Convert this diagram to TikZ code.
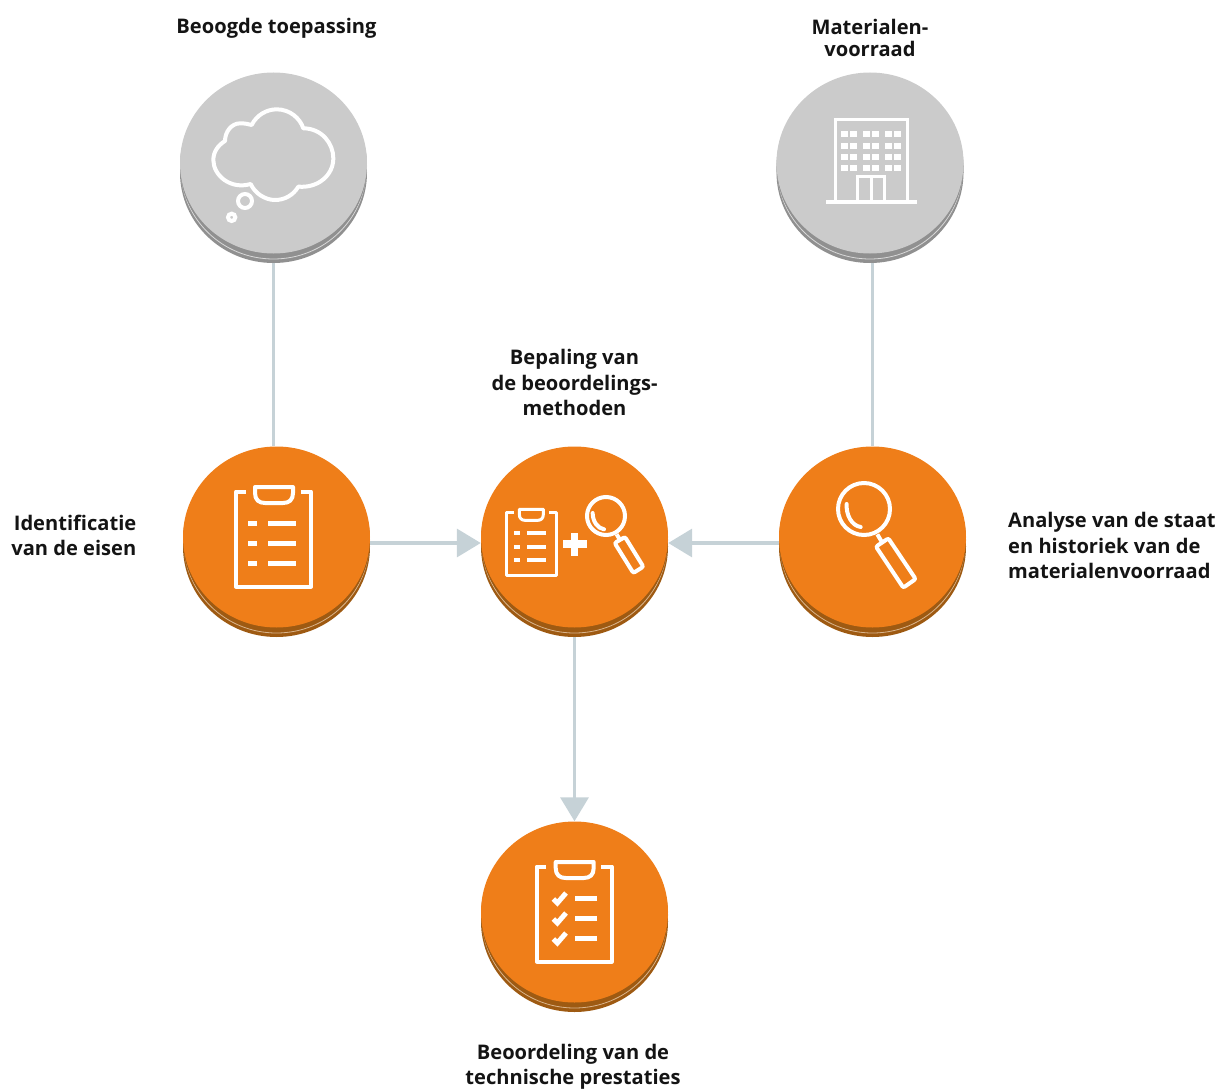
\documentclass[tikz,border=0pt]{standalone}
\usepackage{fontspec}
\setmainfont{Open Sans}
\usetikzlibrary{shapes.geometric,arrows.meta}
\definecolor{orangeface}{HTML}{EF7E19}
\definecolor{orangeside}{HTML}{9E5A12}
\definecolor{orangeline}{HTML}{D9B48C}
\definecolor{grayface}{HTML}{CBCBCB}
\definecolor{grayside}{HTML}{909090}
\definecolor{grayline}{HTML}{D8D8D8}
\definecolor{linkcol}{HTML}{C6D2D7}
\tikzset{
  disc/.style={ellipse,inner sep=0pt,minimum width=187pt,minimum height=181pt},
  link/.style={draw=linkcol,line width=3.5pt},
  arrowlink/.style={link,-{Triangle[length=24pt,width=28pt,fill=linkcol]}},
  icon/.style={draw=white,line width=4pt,fill=none},
  iconthin/.style={draw=white,line width=3pt,fill=none},
  bar/.style={draw=none,fill=white},
  label/.style={inner sep=0pt,font=\fontsize{20.1}{25.3}\selectfont\bfseries,text=black!92}
}
% #1 name, #2 x, #3 y, #4 face, #5 side, #6 light line
\newcommand{\coin}[6]{%
  \node[disc,fill=#5] (#1b) at (#2,#3+9.5) {};
  \draw[#6,line width=0.8pt] (#2,#3+6) ellipse [x radius=92.5,y radius=90];
  \fill[#5] (#2,#3+3) ellipse [x radius=93.5,y radius=90.5];
  \node[disc,fill=#4] (#1) at (#2,#3) {};
}
% large clipboard frame, #1 x, #2 y of outer top left
\newcommand{\boardframe}[2]{%
  \begin{scope}[shift={(#1,#2)}]
    \draw[icon,line join=round] (11.5,1.5) -- (2,1.5) -- (2,96.5) -- (77,96.5) -- (77,1.5) -- (66.5,1.5);
    \draw[icon,line join=round] (21,-3) -- (21,3) .. controls (21,10) and (25,13) .. (31,13) -- (49,13) .. controls (55,13) and (59,10) .. (59,3) -- (59,-3) -- cycle;
  \end{scope}}
\begin{document}
\begin{tikzpicture}[x=1pt,y=-1pt]
\useasboundingbox (0,0) rectangle (1218,1089);
\coin{g1}{273.5}{163}{grayface}{grayside}{grayline}
\coin{g2}{870}{163}{grayface}{grayside}{grayline}
\coin{o1}{276.5}{537}{orangeface}{orangeside}{orangeline}
\coin{o2}{574.5}{537}{orangeface}{orangeside}{orangeline}
\coin{o3}{872.5}{537}{orangeface}{orangeside}{orangeline}
\coin{o4}{574.5}{912}{orangeface}{orangeside}{orangeline}
% connectors
\draw[link] (g1b.south) -- (g1b.south |- o1.north);
\draw[link] (o3.north) -- (o3.north |- g2b.south);
\draw[arrowlink] ([yshift=-6pt]o1.east) -- ([yshift=-6pt]o2.west);
\draw[arrowlink] ([yshift=-6pt]o3.west) -- ([yshift=-6pt]o2.east);
\draw[arrowlink] (o2b.south) -- (o4.north);
% cloud
\begin{scope}[shift={(160,60)},scale=1/3]
  \draw[icon,line join=round] (275,195) .. controls (290,165) and (320,148) .. (350,148) .. controls (390,148) and (420,175) .. (430,205) .. controls (485,205) and (520,250) .. (520,295) .. controls (520,345) and (475,385) .. (415,380) .. controls (400,405) and (375,420) .. (345,420) .. controls (315,420) and (285,400) .. (272,372) .. controls (210,390) and (160,345) .. (160,300) .. controls (160,275) and (175,255) .. (195,243) .. controls (195,215) and (215,190) .. (240,190) .. controls (255,190) and (265,192) .. (275,195) -- cycle;
  \draw[icon] (255,423) circle (21);
  \draw[icon] (215,472) circle (11);
\end{scope}
% building
\begin{scope}[shift={(760,60)},scale=1/3]
  \draw[iconthin] (225,425) -- (225,180) -- (441,180) -- (441,425);
  \fill[white] (198,419) rectangle (470,432);
  \foreach \ya/\yb in {212/230,248/267,282/300,315/333}
    \foreach \xa/\xb in {243/263,270/290,310/330,337/357,375/395,402/422}
      \fill[white] (\xa,\ya) rectangle (\xb,\yb);
  \draw[iconthin] (293,425) -- (293,350) -- (373,350) -- (373,425);
  \draw[iconthin] (333,350) -- (333,425);
\end{scope}
% clipboard 1
\boardframe{234}{490}
\begin{scope}[shift={(170,435)},scale=1/3]
  \foreach \y in {265,325,385}{
    \fill[white] (234,\y-8) rectangle (261,\y+8);
    \fill[white] (294,\y-8) rectangle (378,\y+8);}
\end{scope}
% centre icon
\begin{scope}[shift={(470,435)},scale=1/3]
  \draw[iconthin,line join=round] (132,232) -- (110,232) -- (110,421) -- (260,421) -- (260,232) -- (236,232);
  \draw[iconthin,line join=round] (148,223) -- (148,238) .. controls (148,250) and (155,256) .. (165,256) -- (203,256) .. controls (213,256) and (220,250) .. (220,238) -- (220,223) -- cycle;
  \foreach \y in {293,335,375}{
    \fill[white] (132,\y-6) rectangle (150,\y+6);
    \fill[white] (170,\y-6) rectangle (228,\y+6);}
  \fill[white] (278,316) rectangle (350,338);
  \fill[white] (303,293) rectangle (325,362);
  \draw[icon] (408,243) circle (57);
  \draw[icon,line cap=round] (368,234) .. controls (368,258) and (382,280) .. (402,283);
  \draw[icon] (440,298) -- (450,315);
  \draw[icon,rounded corners=2pt] (434,324) -- (465,306) -- (520,395) -- (490,414) -- cycle;
\end{scope}
% right magnifier
\begin{scope}[shift={(770,435)},scale=1/3]
  \draw[icon] (282,222) circle (78);
  \draw[icon,line cap=round] (230,207) .. controls (228,240) and (245,272) .. (272,276);
  \draw[icon] (322,298) -- (335,320);
  \draw[icon,rounded corners=2pt] (318,335) -- (355,310) -- (437,432) -- (400,458) -- cycle;
\end{scope}
% bottom clipboard
\boardframe{534.7}{865}
\begin{scope}[shift={(470,790)},scale=1/3]
  \foreach \y in {325,385,445}{
    \draw[icon,line width=5pt] (250,\y+2) -- (262,\y+14) -- (288,\y-16);
    \fill[white] (315,\y-8) rectangle (381,\y+8);}
\end{scope}
% labels
\node[label,align=center] (t1) at (276.5,28.5) {Beoogde toepassing};
\node[label,align=center,font=\fontsize{20.1}{22}\selectfont\bfseries] (t2) at (870,37.5) {Materialen-\\voorraad};
\node[label,align=center] (t3) at (574.5,382.5) {Bepaling van\\de beoordelings-\\methoden};
\node[label,align=right,anchor=east] (t4) at (136.5,535.5) {Identificatie\\van de eisen};
\node[label,align=left,anchor=west] (t5) at (1008,545.5) {Analyse van de staat\\en historiek van de\\materialenvoorraad};
\node[label,align=center] (t6) at (573,1066.5) {Beoordeling van de\\technische prestaties};
\end{tikzpicture}
\end{document}
